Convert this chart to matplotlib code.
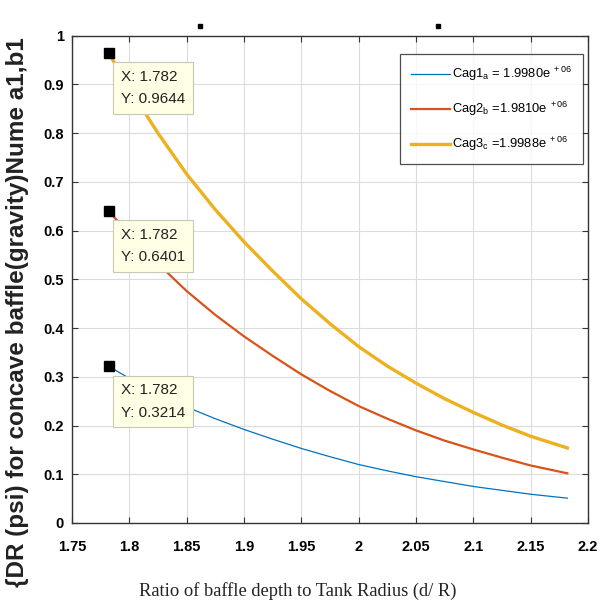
import matplotlib
matplotlib.use("Agg")
import matplotlib.pyplot as plt
from matplotlib.ticker import FixedLocator

# Ratio of baffle depth to tank radius
ratio = [1.782, 1.80, 1.825, 1.85, 1.875, 1.90, 1.925, 1.95, 1.975,
         2.00, 2.025, 2.05, 2.075, 2.10, 2.125, 2.15, 2.182]

# DR (psi) for each case
cag1 = [0.3214, 0.297, 0.266, 0.238, 0.214, 0.192, 0.172, 0.153, 0.136,
        0.120, 0.107, 0.095, 0.085, 0.075, 0.067, 0.059, 0.051]
cag2 = [0.6401, 0.593, 0.532, 0.476, 0.427, 0.383, 0.343, 0.305, 0.271,
        0.240, 0.214, 0.190, 0.169, 0.151, 0.134, 0.118, 0.102]
cag3 = [0.9644, 0.892, 0.800, 0.716, 0.643, 0.577, 0.517, 0.460, 0.409,
        0.362, 0.322, 0.287, 0.255, 0.227, 0.201, 0.178, 0.154]

labels = [r"Cag1$_{a}$ = 1.9980e$^{\ +06}$",
          r"Cag2$_{b}$ =1.9810e$^{\ +06}$",
          r"Cag3$_{c}$ =1.9988e$^{\ +06}$"]
colors = ["#0072BD", "#D95319", "#EDB120"]
widths = [0.9, 1.6, 2.4]

# data tips
tip_x = 1.782
tip_y = [0.9644, 0.6401, 0.3214]

xticks = [1.75, 1.8, 1.85, 1.9, 1.95, 2.0, 2.05, 2.1, 2.15, 2.2]
xticklabels = ["1.75", "1.8", "1.85", "1.9", "1.95", "2", "2.05", "2.1", "2.15", "2.2"]
yticks = [0, 0.1, 0.2, 0.3, 0.4, 0.5, 0.6, 0.7, 0.8, 0.9, 1.0]
yticklabels = ["0", "0.1", "0.2", "0.3", "0.4", "0.5", "0.6", "0.7", "0.8", "0.9", "1"]

NARROW = ["Liberation Sans Narrow", "Liberation Sans", "DejaVu Sans"]

plt.rcParams["mathtext.fontset"] = "custom"
plt.rcParams["mathtext.rm"] = "Liberation Sans"
plt.rcParams["mathtext.it"] = "Liberation Sans"

W, H = 605, 607
fig = plt.figure(figsize=(W / 100, H / 100), dpi=100)
ax = fig.add_axes([72 / W, 1 - 523 / H, (588 - 72) / W, (523 - 35.7) / H])

lines = []
for ys, c, lw, lab in zip([cag1, cag2, cag3], colors, widths, labels):
    ln, = ax.plot(ratio, ys, color=c, lw=lw, label=lab, zorder=3)
    lines.append(ln)

ax.set_xlim(1.75, 2.2)
ax.set_ylim(0, 1)
ax.xaxis.set_major_locator(FixedLocator(xticks))
ax.yaxis.set_major_locator(FixedLocator(yticks))
ax.set_xticklabels(xticklabels, family=NARROW, fontweight="bold", fontsize=10.5)
ax.set_yticklabels(yticklabels, family=NARROW, fontweight="bold", fontsize=10.5)
ax.tick_params(axis="x", pad=12)
ax.tick_params(axis="y", pad=6)
ax.tick_params(direction="in", top=True, right=True, length=4, width=0.8,
               color="#333333")
ax.grid(True, color="#dcdcdc", lw=0.8)
ax.set_axisbelow(True)
for s in ax.spines.values():
    s.set_color("#333333")
    s.set_linewidth(1.0)

# data tip markers and boxes
for yv in tip_y:
    ax.plot([tip_x], [yv], marker="s", ms=7, color="black", zorder=6)
    ax.annotate(f"X: {tip_x}\nY: {yv}", xy=(tip_x, yv),
                xytext=(12, -17), textcoords="offset pixels",
                ha="left", va="top", family=NARROW, fontsize=11,
                color="#222222", linespacing=1.75, zorder=7,
                bbox=dict(boxstyle="square,pad=0.5", fc="#FFFFE6",
                          ec="#c8c8b4", lw=0.8))

leg = ax.legend(handles=lines, loc="upper right",
                bbox_to_anchor=(583 / W, 1 - 54 / H),
                bbox_transform=fig.transFigure,
                prop={"family": NARROW, "size": 9.3},
                frameon=True, fancybox=False, handlelength=3.0,
                handletextpad=0.15, labelspacing=1.3, borderpad=0.85,
                borderaxespad=0.0)
leg.get_frame().set_edgecolor("#222222")
leg.get_frame().set_linewidth(0.9)

# small marks above the top edge
for xm in (1.862, 2.069):
    ax.plot([xm], [1.02], marker="s", ms=3, color="black", clip_on=False)

fig.text(298 / W, 1 - 591 / H, "Ratio of baffle depth to Tank Radius (d/ R)",
         ha="center", va="center", family=["Liberation Serif", "DejaVu Serif"],
         fontsize=13.3, color="#222222")
fig.text(18 / W, 1 - 312 / H, "{DR (psi) for concave baffle(gravity)Nume a1,b1",
         ha="center", va="center", rotation=90,
         family=["Liberation Sans", "DejaVu Sans"], fontweight="bold",
         fontsize=17.5, color="#222222")

fig.savefig("out.png", dpi=100)
